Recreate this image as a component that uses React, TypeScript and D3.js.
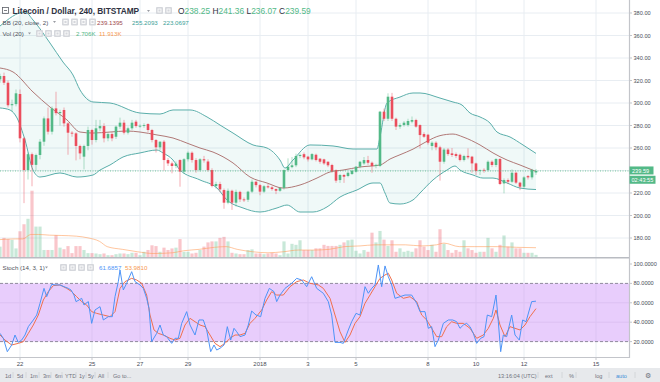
import React from "react";
import * as d3 from "d3";

// ---------- DATA ----------
const candleOpen = [
  321, 324, 318, 298, 299, 308, 268.6, 240.4, 254.5, 245,
  253.8, 265.6, 286.3, 274.5, 295.2, 291, 293.8, 281.9, 273.6, 273,
  261.8, 252.3, 261.8, 276, 267.1, 277.5, 279.5, 268.6, 272.4, 270,
  279, 282.5, 273.6, 277.5, 283.4, 279.5, 280, 281.3, 276, 267.1,
  260.6, 265.6, 249.3, 246.3, 244, 249.3, 239, 250, 255.8, 249.3,
  240.4, 250, 248, 240.4, 226.2, 228, 222.6, 211.4, 222, 211.4,
  221, 214.3, 214, 221.2, 230, 227, 221.2, 226, 225, 223.5,
  222, 224.5, 240.4, 243, 244.6, 252.9, 254.5, 252.3, 249.9, 254,
  250.5, 249.9, 247.8, 244.9, 240.4, 231.5, 236, 235.1, 236.9, 238.9,
  243.4, 246.3, 249.3, 246.9, 244, 244, 292.3, 286, 305.6, 286,
  279, 280.4, 280.4, 283.4, 284.9, 280.4, 272.4, 271.8, 261.8, 264.7,
  260.6, 247.8, 258.6, 255.2, 254.6, 254, 249.3, 253, 252.3, 246.3,
  240, 240.6, 240.4, 247.8, 244.9, 250.2, 228.5, 231.5, 230, 238,
  229.2, 225.6, 235, 233.9, 238.25,
];
const candleHigh = [
  326, 327, 320, 303, 312, 312, 270, 256, 256, 255,
  268, 288, 296, 297, 310, 294, 296, 283, 275, 274,
  263, 263, 279, 277, 285, 285, 282, 274, 274, 280,
  287, 285, 279, 285, 285, 281, 282, 282, 277, 268,
  266, 267, 251, 248, 248, 250, 251, 257, 257, 251,
  251, 253, 250, 242, 230, 230, 224, 224, 223, 223,
  222, 216, 222, 232, 231, 228, 227, 228, 226, 224,
  225, 241, 250.8, 252, 255, 255, 256, 253, 255.5, 255,
  251, 250.5, 248, 246, 241, 237, 237, 239, 241, 244,
  248.5, 252, 253, 248, 246, 293, 295, 308.6, 309, 287,
  282, 284, 286, 288, 286, 281, 274, 272.5, 266, 266,
  262, 260, 260, 260, 256, 255, 254, 259.7, 253, 247,
  241, 242, 249, 249, 251, 251, 233, 233, 241, 239,
  230, 235, 236, 241.5, 241.36,
];
const candleLow = [
  318, 316, 296, 292, 297, 265, 211, 232, 226, 240,
  250, 262, 272, 272, 289, 280, 279, 254, 270, 249,
  250, 241, 258, 263, 265, 275, 265, 266, 266, 268,
  277, 272, 272, 276, 278, 278, 278, 274, 265, 256,
  258, 240, 244, 237.5, 242, 225.6, 237, 248, 247, 238,
  239, 247, 239, 225, 224, 221, 206, 210, 205, 208,
  212, 212, 212, 220, 225, 218, 220, 224, 222, 219,
  221, 223, 239, 242, 243, 251, 250, 248, 249, 248,
  246, 245, 243, 238, 229, 229, 229, 234, 236, 238,
  242, 245, 245, 238, 242, 243, 284, 284, 284, 276,
  277, 279, 279, 282, 278, 259.7, 269, 263, 258, 258,
  231, 246, 253, 252, 251, 248, 248, 250, 238, 236,
  236, 238, 239, 243, 243, 227, 219.7, 228, 229, 228,
  222.5, 224, 232, 232, 236.07,
];
const candleClose = [
  324, 318, 298, 299, 308.6, 268.6, 240.4, 254.5, 245, 253.8,
  265.6, 286.3, 274.5, 295.2, 291, 292, 281.9, 273.6, 273, 261.8,
  255.2, 261.8, 276, 267.1, 277.5, 279.5, 268.6, 272.4, 268.6, 279,
  282.5, 273.6, 277.5, 282.5, 279.5, 279.8, 280.4, 276, 267.1, 260.6,
  265.6, 249.3, 246.3, 244, 246, 239, 250, 255.8, 249.3, 240.4,
  250, 249, 240.4, 226.2, 228, 223.2, 211.4, 222, 211.4, 221,
  214.3, 214, 221.2, 230, 227, 221.2, 226, 225, 223.5, 222,
  224.5, 240.4, 243.4, 244.6, 252.9, 253.8, 251.7, 249.9, 254.6, 249.3,
  247.8, 246.3, 244.6, 239.5, 231, 236, 234.5, 238, 239.8, 243.4,
  247.8, 249.3, 246.9, 244, 245, 292.3, 286, 305.6, 286, 279,
  280.4, 282.5, 284, 284.9, 279, 271.5, 270, 264.7, 264.7, 260.6,
  247.8, 258.6, 254.6, 253.8, 252.9, 249.3, 252.9, 251.7, 246.3, 239.5,
  240.4, 240.2, 247.8, 244.9, 250.2, 228, 231.5, 230, 238, 229.2,
  225.6, 233.9, 233.9, 240.5, 239.59,
];
// volume in thousands
const volumeK = [
  13.3, 24.5, 23, 22, 11, 33, 42, 49, 85, 39,
  39, 9, 9, 9, 28, 12, 10, 14, 5, 14,
  14, 9, 5, 5, 4.5, 3.6, 4.5, 2.3, 2.3, 3.6,
  4.5, 4.5, 3.6, 5.4, 5.4, 2.3, 6.7, 9, 15, 14,
  6.7, 12, 9, 11, 12, 23, 6.7, 6.7, 4.5, 5.4,
  9, 13.3, 18.7, 20, 20, 24.5, 25.8, 20, 5.4, 4.5,
  3.6, 3.6, 8.9, 9.8, 4.5, 4.5, 3.6, 4.5, 5.4, 4.5,
  2.3, 20, 4.5, 16.9, 15.6, 21.4, 8.9, 8.9, 8.9, 11.1,
  11.1, 15.6, 14.2, 14.2, 14.2, 15.6, 18.7, 21.4, 22.3, 8,
  4.5, 8.9, 6.7, 31.2, 18.7, 33.4, 22.3, 14.2, 21.4, 6.7,
  11.1, 6.7, 8, 6.7, 11.1, 21.4, 13.3, 8.9, 15.6, 6.7,
  35.6, 16.9, 8.9, 5.4, 8.9, 6.7, 21.4, 11.1, 8.9, 5.4,
  6.7, 6.7, 24.5, 11.1, 6.7, 15.6, 27.6, 13.3, 18.7, 11.1,
  11.1, 5.4, 5.4, 5.4, 2.706,
];
// [bar index, value]
const bbUpper: [number, number][] = [
  [0, 368.4], [6.25, 380.9], [8.25, 373.8], [12.5, 353.3], [15.75, 336.4], [18.25, 324.9], [20, 311.6],
  [23.25, 300.9], [27.5, 300], [35, 291.1], [40, 290.2], [43.25, 293.8], [47.5, 293.8], [51.75, 287.6],
  [55, 280.4], [58.25, 273.3], [63.25, 262.7], [66.75, 260], [70, 249.3], [71.25, 242.2], [73.25, 249.3],
  [77.5, 262.7], [83.25, 261.8], [88.25, 259.1], [94.25, 259.1], [95, 270], [96.75, 300], [100, 305.3],
  [103.25, 308.9], [105, 308.9], [110, 304.4], [113.25, 300.9], [115.5, 298.2], [117.5, 291.1], [120, 287.6],
  [122.5, 282.2], [124.25, 274.2], [127.5, 269.8], [130.75, 262.7], [134, 255.2],
];
const bbMiddle: [number, number][] = [
  [0, 331.1], [3.25, 327.6], [8.25, 309.8], [12.5, 296.4], [16.75, 284.9], [20, 274.2], [23.25, 273.3],
  [27.5, 274.2], [31.75, 275.1], [35, 274.2], [39.25, 271.6], [43.25, 268.9], [47, 264], [50, 260],
  [53.25, 256.4], [58.25, 246.7], [62.5, 234.2], [66.75, 228.9], [70.75, 224.4], [75, 227.1], [79.25, 233.3],
  [82.5, 238.7], [85.75, 240.4], [90, 243.1], [95, 244.9], [97.5, 250.2], [100, 254], [103.25, 259],
  [106.75, 266], [110, 271], [113.25, 272.4], [115.75, 269.8], [120, 262.7], [123.25, 255.6], [126.75, 249.3],
  [130, 244.9], [134, 239.14],
];
const bbLower: [number, number][] = [
  [0, 295.6], [2.5, 293.8], [4.25, 286.7], [6.25, 267.1], [8.25, 240.4], [10, 234.2], [15, 237.8],
  [19.25, 234.2], [23.25, 236], [25, 240.4], [27.5, 244.9], [30.75, 252], [35, 255.6], [39.25, 258.2],
  [40.75, 255.6], [43.25, 249.3], [45, 240.4], [50, 231.6], [54.25, 224.4], [56.75, 213.8], [60.75, 206.7],
  [65, 203.1], [69.25, 206.7], [71.75, 209.3], [75, 203.1], [78.25, 203.1], [81.75, 207.6], [85, 216.4],
  [89.25, 222.7], [93.25, 228.9], [95, 228.9], [96.25, 220], [97.5, 211.1], [100, 210.2], [103.25, 213.8],
  [105, 220], [108.25, 231.6], [111.75, 240.4], [113.75, 244], [115, 240.4], [118.25, 236], [120.75, 233.3],
  [123.25, 233.3], [126.75, 228.9], [130, 224.4], [134, 223.07],
];
const volumeMA: [number, number][] = [
  [0, 22.3], [3.8, 23.2], [5.7, 23.2], [7.7, 28.9], [9.6, 28.9], [12.4, 28], [15.3, 27.6], [19.1, 26.7],
  [22, 24.5], [24.9, 20], [26.8, 13.3], [30.6, 9.8], [34.4, 6.7], [38.3, 4.5], [43.1, 5.4], [45.9, 8],
  [49.8, 9.8], [53.6, 12.4], [56.5, 13.3], [59.3, 9.8], [63.2, 6.7], [67, 5.4], [70.8, 6.7], [74.6, 8.9],
  [78.5, 8.9], [82.3, 9.8], [86.1, 13.3], [90, 14.2], [93.8, 15.6], [97.6, 15.6], [101.4, 15.6], [105.3, 14.2],
  [109.1, 15.6], [111, 17.8], [114.8, 13.3], [118.7, 13.3], [124.4, 13.3], [129.2, 12.4], [134, 11.913],
];
const stochK: [number, number][] = [
  [0, 28.5], [0.83, 23.4], [1.83, 9.6], [2.92, 16.5], [3.75, 26.8], [4.58, 19.2], [5.42, 21.6], [6.25, 26.8],
  [7.08, 35.4], [8.33, 42.3], [9.17, 47.4], [10, 59.5], [11, 74.9], [11.67, 66.3], [12.92, 79], [13.75, 78.4],
  [15, 78.4], [16, 76.6], [17.08, 74.9], [17.75, 73.2], [18.5, 68], [19, 61.2], [19.75, 62.9], [20.42, 64.6],
  [21, 57.7], [21.5, 59.5], [22.08, 61.2], [22.92, 38.8], [23.75, 52.6], [25, 56], [25.83, 42.3], [27.08, 45.7],
  [28.08, 45.7], [28.75, 66.3], [29.58, 81.8], [30, 93.8], [30.83, 73.2], [31.67, 80.1], [32.92, 92.1],
  [33.75, 81.8], [35, 78.4], [35.83, 74.9], [36.67, 64.6], [37.25, 54.3], [37.92, 19.9], [39.17, 28.5],
  [40, 37.1], [40.83, 26.8], [41.67, 25.1], [42.92, 18.2], [43.75, 23.4], [44.58, 23.4], [45.42, 38.8],
  [46.67, 50.9], [47.5, 37.1], [48.75, 26.8], [49.75, 42.3], [50.83, 42.3], [51.67, 32], [52.67, 9.6],
  [53.5, 16.5], [54.17, 11.3], [55, 13.1], [56, 16.5], [56.83, 35.4], [57.67, 21.6], [58.5, 33.7], [59.17, 30.2],
  [60, 25.1], [61.25, 26.8], [62.08, 37.1], [62.92, 51.5], [64, 47.4], [65.17, 45.7], [66.25, 64.6],
  [67.33, 74.9], [68.5, 71.5], [69.17, 61.2], [70, 68], [71.25, 74.9], [72.92, 80.1], [74.17, 85.2],
  [75.42, 83.5], [76.67, 76.6], [77.92, 86.9], [79.17, 74.9], [80.83, 69.8], [82.08, 61.2], [82.92, 47.4],
  [83.75, 19.2], [85, 19.2], [85.83, 18.2], [87.08, 32], [87.92, 40.5], [89, 49.1], [90, 47.4], [91.25, 76.6],
  [92.08, 69.8], [92.92, 74.9], [93.75, 78.4], [94.58, 99], [95.42, 76.6], [96.25, 98], [97.08, 86.9],
  [97.92, 78.4], [98.75, 64.6], [100, 66.3], [101.25, 68], [102.92, 68], [104.17, 59.5], [105, 50.9],
  [106.25, 50.9], [107.08, 33.7], [107.92, 35.4], [108.75, 14.8], [109.58, 21.6], [110.83, 38.8],
  [112.08, 42.3], [113.17, 42.3], [114.17, 40.5], [115, 33.7], [115.83, 37.1], [116.67, 38.8], [117.5, 35.4],
  [118.33, 28.5], [119.17, 18.2], [120.17, 23.4], [121, 25.1], [121.83, 47.4], [122.92, 45.7], [124, 68],
  [124.58, 40.5], [125.17, 9.6], [125.83, 26.8], [126.67, 25.1], [127.92, 47.4], [128.75, 26.8],
  [129.83, 21.6], [130.67, 42.3], [131.5, 40.5], [132.92, 61.2], [134, 61.6857],
];
const stochD: [number, number][] = [
  [0, 26.8], [1.25, 21.6], [2.92, 16.5], [4.58, 18.2], [5.83, 19.9], [7.08, 28.5], [8.33, 37.1], [9.58, 47.4],
  [10.83, 62.9], [12.08, 71.5], [13.33, 77.7], [15, 78.4], [16.67, 74.9], [17.92, 71.5], [19.17, 66.3],
  [20.42, 61.2], [21.67, 57.7], [22.92, 50.9], [24.17, 49.1], [25.83, 47.4], [27.5, 45.7], [28.75, 50.9],
  [30, 74.9], [31.25, 81.8], [32.92, 85.2], [34.17, 83.5], [35.42, 80.1], [36.67, 68], [37.5, 47.4], [38.5, 32],
  [39.58, 28.5], [40.83, 26.8], [42.5, 23.4], [43.75, 21.6], [45, 23.4], [46.25, 37.1], [47.5, 44],
  [48.75, 40.5], [50, 37.1], [51.25, 35.4], [52.5, 26.8], [53.75, 18.2], [55, 14.8], [56.25, 18.2],
  [57.5, 23.4], [58.75, 26.8], [60, 26.8], [61.25, 28.5], [62.5, 38.8], [63.75, 44], [65.42, 52.6],
  [66.67, 62.9], [67.92, 71.5], [69.17, 68], [70.83, 68], [72.5, 76.6], [74.17, 81.8], [75.83, 83.5],
  [77.5, 80.1], [79.58, 78.4], [80.83, 74.9], [82.5, 64.6], [83.75, 47.4], [85, 30.2], [86.25, 19.2],
  [87.5, 26.8], [88.75, 38.8], [90, 45.7], [91.25, 59.5], [92.5, 68], [93.75, 76.6], [95, 85.2], [96.25, 88.7],
  [97.08, 90.4], [97.92, 83.5], [99.17, 69.8], [100.83, 64.6], [102.5, 66.3], [104.17, 61.2], [105.42, 47.4],
  [106.67, 42.3], [107.92, 33.7], [109.17, 25.1], [110.42, 25.1], [111.67, 35.4], [112.92, 40.5],
  [114.17, 38.8], [115.83, 38.8], [117.5, 33.7], [119.17, 23.4], [120.83, 26.8], [122.08, 33.7], [123.33, 44],
  [124, 52.6], [125, 37.1], [126.25, 25.1], [127.5, 35.4], [128.75, 33.7], [130, 32], [131.25, 37.1],
  [132.5, 45.7], [134, 53.981],
];
const tickDates: [number, number, number][] = [
  [2017, 11, 22], [2017, 11, 25], [2017, 11, 27], [2017, 11, 29], [2018, 0, 1], [2018, 0, 3],
  [2018, 0, 5], [2018, 0, 8], [2018, 0, 10], [2018, 0, 12], [2018, 0, 15],
];
const tickLabels = ["22", "25", "27", "29", "2018", "3", "5", "8", "10", "12", "15"];
const priceTicks = [180, 200, 220, 240, 260, 280, 300, 320, 340, 360, 380];
const stochTicks = [20, 40, 60, 80, 100];

// ---------- STYLE ----------
const FONT = "'Liberation Sans', Arial, sans-serif";
const UP = "#53b987";
const DOWN = "#eb4d5c";
const GRID = "#e8edf2";
const AXIS = "#c3c5ca";
const LABEL = "#4a4e59";

function Icons({ x, y, n }: { x: number; y: number; n: number }) {
  const items = [];
  for (let k = 0; k < n; k++) {
    items.push(
      <g key={k}>
        <rect x={x + k * 9} y={y} width={7} height={7} rx={1} fill="#d5d7dc" />
        <rect x={x + k * 9 + 2} y={y + 2} width={3} height={3} fill="none" stroke="#fff" strokeWidth={0.8} />
      </g>
    );
  }
  return <g>{items}</g>;
}

function Caret({ x, y }: { x: number; y: number }) {
  return <path d={`M${x},${y} l3,0 l-1.5,2 z`} fill="#9a9ca3" />;
}

export default function App() {
  const H4 = 4 * 3600 * 1000;
  const t0 = Date.UTC(2017, 11, 21, 4);
  const x = d3.scaleTime().domain([new Date(t0), new Date(t0 + 134 * H4)]).range([0, 536]);
  const xi = (i: number) => x(new Date(t0 + i * H4));
  const yP = d3.scaleLinear().domain([180, 380]).range([238, 13]);
  const yV = d3.scaleLinear().domain([0, 100]).range([257, 179]);
  const yS = d3.scaleLinear().domain([0, 100]).range([361, 264]);

  const lineP = d3.line<[number, number]>().x((d) => xi(d[0])).y((d) => yP(d[1])).curve(d3.curveMonotoneX);
  const bandLine = d3.line<[number, number]>().x((d) => xi(d[0])).y((d) => yP(d[1]));
  const bandPath = bandLine([...bbUpper, ...bbLower.slice().reverse()]) + "Z";
  const lineV = d3.line<[number, number]>().x((d) => xi(d[0])).y((d) => yV(d[1])).curve(d3.curveMonotoneX);
  const lineS = d3.line<[number, number]>().x((d) => xi(d[0])).y((d) => yS(d[1]));

  const tickX = tickDates.map((d) => x(new Date(Date.UTC(d[0], d[1], d[2]))));
  const lastY = yP(candleClose[candleClose.length - 1]);

  return (
    <svg width={660} height={382} style={{ position: "absolute", left: 0, top: 0, background: "#fff" }}
      fontFamily={FONT}>
      <defs>
        <clipPath id="mainClip"><rect x={0} y={0} width={629} height={257} /></clipPath>
        <clipPath id="stochClip"><rect x={0} y={259} width={629} height={98} /></clipPath>
      </defs>
      <rect x={0} y={0} width={660} height={382} fill="#fff" />

      {/* grid */}
      {priceTicks.map((p) => (
        <line key={"hg" + p} x1={0} x2={629} y1={yP(p)} y2={yP(p)} stroke={GRID} strokeWidth={1} />
      ))}
      {tickX.map((tx, k) => (
        <line key={"vg" + k} x1={tx} x2={tx} y1={0} y2={357} stroke={GRID} strokeWidth={1} />
      ))}

      {/* main pane */}
      <g clipPath="url(#mainClip)">
        <path d={bandPath} fill="rgba(38,166,154,0.07)" />
        <path d={lineP(bbUpper) || ""} fill="none" stroke="#5aaeaa" strokeWidth={1} />
        <path d={lineP(bbLower) || ""} fill="none" stroke="#5aaeaa" strokeWidth={1} />
        <path d={lineP(bbMiddle) || ""} fill="none" stroke="#a4625f" strokeWidth={1} opacity={0.85} />

        {volumeK.map((v, i) => {
          const up = candleClose[i] >= candleOpen[i];
          return (
            <rect key={"v" + i} x={xi(i) - 1.6} width={3.2} y={yV(v)} height={257 - yV(v)}
              fill={up ? UP : DOWN} opacity={0.32} />
          );
        })}
        <path d={lineV(volumeMA) || ""} fill="none" stroke="#ff9850" strokeWidth={1} opacity={0.55} />

        {candleOpen.map((o, i) => {
          const c = candleClose[i];
          const up = c >= o;
          const col = up ? UP : DOWN;
          const cx = xi(i);
          const top = yP(Math.max(o, c));
          const h = Math.max(0.9, Math.abs(yP(o) - yP(c)));
          return (
            <g key={"c" + i}>
              <line x1={cx} x2={cx} y1={yP(candleHigh[i])} y2={yP(candleLow[i])} stroke={col}
                strokeWidth={1} opacity={0.45} />
              <rect x={cx - 1.3} width={2.6} y={top} height={h} fill={col} />
            </g>
          );
        })}
        <line x1={0} x2={629} y1={lastY} y2={lastY} stroke={UP} strokeWidth={0.8} strokeDasharray="1 1.5" />
      </g>

      {/* pane separator */}
      <line x1={0} x2={629} y1={257.8} y2={257.8} stroke="#b9bcc2" strokeWidth={1.5} />

      {/* stoch pane */}
      <rect x={0} y={yS(80)} width={629} height={yS(20) - yS(80)} fill="#e8cdfc" />
      {[40, 60].map((s) => (
        <line key={"sg" + s} x1={0} x2={629} y1={yS(s)} y2={yS(s)} stroke="#dcc0f2" strokeWidth={1} />
      ))}
      {tickX.map((tx, k) => (
        <line key={"vg2" + k} x1={tx} x2={tx} y1={yS(80)} y2={yS(20)} stroke="#dcc3f3" strokeWidth={1} />
      ))}
      {[80, 20].map((s) => (
        <line key={"sd" + s} x1={0} x2={629} y1={yS(s)} y2={yS(s)} stroke="#8f8a9c" strokeWidth={1}
          strokeDasharray="3 2" />
      ))}
      <g clipPath="url(#stochClip)">
        <path d={lineS(stochD) || ""} fill="none" stroke="#f0704e" strokeWidth={1} />
        <path d={lineS(stochK) || ""} fill="none" stroke="#4d94f7" strokeWidth={1} />
      </g>

      {/* right axis */}
      <line x1={629.5} x2={629.5} y1={0} y2={358} stroke={AXIS} strokeWidth={1.2} />
      {priceTicks.map((p) => (
        <g key={"pl" + p}>
          <line x1={629.5} x2={632} y1={yP(p)} y2={yP(p)} stroke={AXIS} strokeWidth={1} />
          <text x={633.5} y={yP(p) + 2} fontSize={5.6} fill={LABEL}>{p.toFixed(2)}</text>
        </g>
      ))}
      {stochTicks.map((s) => (
        <g key={"sl" + s}>
          <line x1={629.5} x2={632} y1={yS(s)} y2={yS(s)} stroke={AXIS} strokeWidth={1} />
          <text x={633.5} y={yS(s) + 2} fontSize={5.6} fill={LABEL}>{s.toFixed(4)}</text>
        </g>
      ))}
      <rect x={629.5} y={lastY - 4.5} width={24} height={8} fill={UP} />
      <text x={632} y={lastY + 1.9} fontSize={5.6} fill="#fff">{candleClose[candleClose.length - 1].toFixed(2)}</text>
      <rect x={629.5} y={lastY + 4.8} width={26} height={8} fill={UP} />
      <text x={631.5} y={lastY + 11.1} fontSize={5.6} fill="#fff">02:43:55</text>

      {/* bottom axis */}
      <line x1={0} x2={629.5} y1={357.5} y2={357.5} stroke={AXIS} strokeWidth={1} />
      {tickX.map((tx, k) => (
        <g key={"xl" + k}>
          <line x1={tx} x2={tx} y1={357.5} y2={360} stroke={AXIS} strokeWidth={1} />
          <text x={tx} y={366} fontSize={6} fill={LABEL} textAnchor="middle">{tickLabels[k]}</text>
        </g>
      ))}

      {/* toolbar */}
      <rect x={0} y={368} width={660} height={14} fill="#e7e9ec" />
      <g fontSize={5.6} fill="#6f727c">
        <text x={5} y={377.5}>1d</text>
        <text x={17} y={377.5}>5d</text>
        <text x={30} y={377.5}>1m</text>
        <text x={43} y={377.5}>3m</text>
        <text x={55} y={377.5}>6m</text>
        <text x={65} y={377.5}>YTD</text>
        <text x={79} y={377.5}>1y</text>
        <text x={88} y={377.5}>5y</text>
        <text x={98} y={377.5}>All</text>
        <text x={113} y={377.5}>Go to...</text>
        <text x={498} y={377.5}>13:16:04 (UTC)</text>
        <text x={545} y={377.5}>ext</text>
        <text x={569} y={377.5}>%</text>
        <text x={595} y={377.5}>log</text>
        <text x={616} y={377.5} fill="#3d8fd8">auto</text>
        <text x={645} y={378} fontSize={7}>⚙</text>
      </g>
      <g stroke="#cfd1d5" strokeWidth={0.8}>
        {[13, 26, 39, 51, 62, 76, 86, 95, 108, 538, 562, 576, 609, 635].map((sx, k) => (
          <line key={"sep" + k} x1={sx} x2={sx} y1={372} y2={378} />
        ))}
      </g>

      {/* legends */}
      <rect x={2.5} y={7.5} width={6} height={6} fill="none" stroke="#5d6068" strokeWidth={0.8} />
      <line x1={4} x2={7} y1={10.5} y2={10.5} stroke="#5d6068" strokeWidth={0.8} />
      <text x={12.5} y={14} fontSize={8.3} fontWeight="bold" fill="#2f3241">Litecoin / Dollar, 240, BITSTAMP</text>
      <Caret x={147} y={10} />
      <Icons x={156} y={7} n={2} />
      <text x={178} y={14} fontSize={8.4} fill="#2f3241">
        O<tspan fill={UP}>{candleOpen[134].toFixed(2)}</tspan> H<tspan fill={UP}>{candleHigh[134].toFixed(2)}</tspan> L<tspan fill={UP}>{candleLow[134].toFixed(2)}</tspan> C<tspan fill={UP}>{candleClose[134].toFixed(2)}</tspan>
      </text>

      <text x={2.5} y={24.5} fontSize={6.2} fill="#50535c">BB (20, close, 2)</text>
      <Caret x={53} y={21} />
      <Icons x={62} y={18.5} n={4} />
      <text x={97} y={24.5} fontSize={6.2} fill="#a0494d">239.1395</text>
      <text x={132} y={24.5} fontSize={6.2} fill="#3c9f98">255.2093</text>
      <text x={163} y={24.5} fontSize={6.2} fill="#3c9f98">223.0697</text>

      <text x={2.5} y={36} fontSize={6.2} fill="#50535c">Vol (20)</text>
      <Caret x={28} y={32.5} />
      <Icons x={36} y={30} n={4} />
      <text x={76} y={36} fontSize={6.2} fill={UP}>2.706K</text>
      <text x={99} y={36} fontSize={6.2} fill="#f7994f">11.913K</text>

      <text x={2.5} y={270} fontSize={6.2} fill="#50535c">Stoch (14, 3, 1)</text>
      <Caret x={45} y={266.5} />
      <Icons x={60} y={264} n={4} />
      <text x={99} y={270} fontSize={6.2} fill="#4d94f7">61.6857</text>
      <text x={125} y={270} fontSize={6.2} fill="#f7994f">53.9810</text>
    </svg>
  );
}
